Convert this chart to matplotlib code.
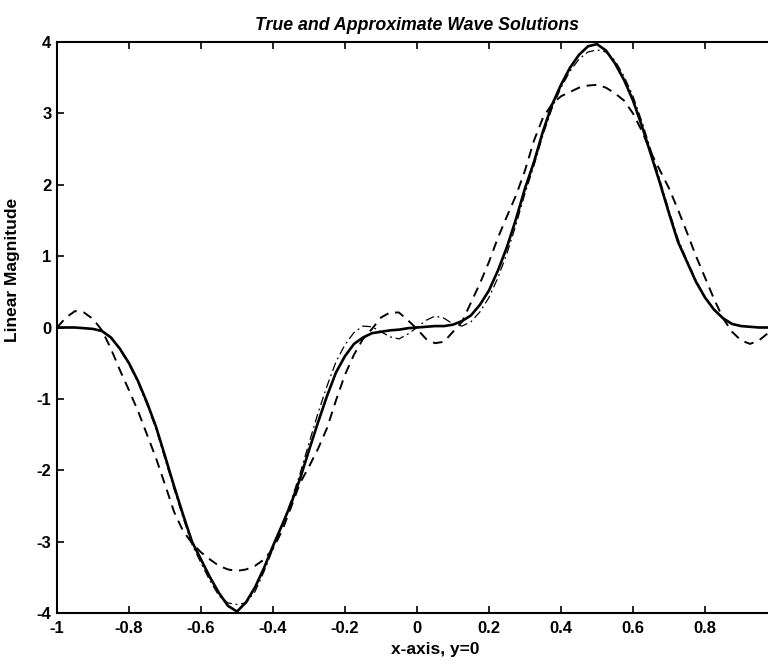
import matplotlib.pyplot as plt

# sampled positions along the x-axis (y = 0 cut)
x = [-1.000, -0.975, -0.950, -0.925, -0.900, -0.875, -0.850, -0.825, -0.800,
     -0.775, -0.750, -0.725, -0.700, -0.675, -0.650, -0.625, -0.600, -0.575,
     -0.550, -0.525, -0.500, -0.475, -0.450, -0.425, -0.400, -0.375, -0.350,
     -0.325, -0.300, -0.275, -0.250, -0.225, -0.200, -0.175, -0.150, -0.125,
     -0.100, -0.075, -0.050, -0.025, 0.000, 0.025, 0.050, 0.075, 0.100,
     0.125, 0.150, 0.175, 0.200, 0.225, 0.250, 0.275, 0.300, 0.325, 0.350,
     0.375, 0.400, 0.425, 0.450, 0.475, 0.500, 0.525, 0.550, 0.575, 0.600,
     0.625, 0.650, 0.675, 0.700, 0.725, 0.750, 0.775, 0.800, 0.825, 0.850,
     0.875, 0.900, 0.925, 0.950, 0.975, 1.000]

# true solution (solid)
true_sol = [0.00, 0.00, 0.00, -0.01, -0.02, -0.05, -0.14, -0.30, -0.50,
            -0.75, -1.05, -1.39, -1.80, -2.22, -2.62, -3.00, -3.25, -3.50,
            -3.72, -3.90, -3.98, -3.85, -3.64, -3.37, -3.06, -2.77, -2.47,
            -2.12, -1.72, -1.33, -0.96, -0.63, -0.40, -0.23, -0.14, -0.08,
            -0.06, -0.04, -0.03, -0.01, 0.00, 0.01, 0.02, 0.02, 0.04,
            0.09, 0.17, 0.32, 0.52, 0.80, 1.13, 1.52, 1.95, 2.32, 2.75,
            3.12, 3.40, 3.64, 3.82, 3.94, 3.97, 3.88, 3.70, 3.47, 3.18,
            2.82, 2.42, 2.02, 1.60, 1.20, 0.92, 0.64, 0.42, 0.25, 0.13,
            0.05, 0.02, 0.01, 0.00, 0.00, 0.00]

# first approximation (dash-dot)
approx_a = [0.00, 0.00, 0.00, -0.01, -0.02, -0.05, -0.15, -0.31, -0.52,
            -0.77, -1.08, -1.42, -1.84, -2.26, -2.66, -3.04, -3.30, -3.55,
            -3.76, -3.86, -3.88, -3.86, -3.70, -3.42, -3.10, -2.78, -2.43,
            -2.05, -1.62, -1.20, -0.82, -0.48, -0.24, -0.07, 0.02, 0.01,
            -0.06, -0.13, -0.16, -0.09, 0.00, 0.10, 0.16, 0.13, 0.05,
            0.02, 0.08, 0.22, 0.42, 0.70, 1.04, 1.44, 1.88, 2.27, 2.70,
            3.07, 3.36, 3.59, 3.76, 3.86, 3.89, 3.86, 3.74, 3.52, 3.24,
            2.88, 2.48, 2.06, 1.64, 1.24, 0.94, 0.66, 0.43, 0.26, 0.13,
            0.05, 0.02, 0.01, 0.00, 0.00, 0.00]

# second approximation (dashed)
approx_b = [0.00, 0.14, 0.23, 0.21, 0.12, -0.04, -0.30, -0.60, -0.88,
            -1.17, -1.50, -1.83, -2.20, -2.58, -2.85, -3.02, -3.15, -3.25,
            -3.34, -3.39, -3.41, -3.39, -3.34, -3.25, -3.10, -2.85, -2.52,
            -2.18, -1.95, -1.70, -1.41, -1.02, -0.66, -0.38, -0.16, -0.02,
            0.14, 0.21, 0.21, 0.10, -0.02, -0.16, -0.22, -0.20, -0.06,
            0.08, 0.35, 0.62, 0.92, 1.26, 1.56, 1.85, 2.20, 2.62, 2.94,
            3.13, 3.24, 3.30, 3.36, 3.39, 3.40, 3.36, 3.28, 3.18, 3.00,
            2.75, 2.45, 2.20, 1.95, 1.65, 1.33, 1.00, 0.70, 0.40, 0.13,
            -0.06, -0.18, -0.23, -0.18, -0.08, 0.00]

x_ticks = [-1, -0.8, -0.6, -0.4, -0.2, 0, 0.2, 0.4, 0.6, 0.8, 1]
# the label at x=1 falls outside the cropped picture, so it stays blank
x_tick_labels = ["-1", "-0.8", "-0.6", "-0.4", "-0.2", "0", "0.2", "0.4", "0.6", "0.8", ""]
y_ticks = [-4, -3, -2, -1, 0, 1, 2, 3, 4]
y_tick_labels = ["-4", "-3", "-2", "-1", "0", "1", "2", "3", "4"]

plt.rcParams["font.family"] = ["Liberation Sans", "DejaVu Sans"]
plt.rcParams["axes.unicode_minus"] = False

fig = plt.figure(figsize=(7.68, 6.65), dpi=100)
ax = fig.add_axes([57 / 768, 52 / 665, 720 / 768, 571 / 665])

ax.plot(x, true_sol, color="black", linewidth=1.9, linestyle="-")
ax.plot(x, approx_a, color="black", linewidth=0.9, linestyle=(0, (7, 3, 1.5, 3)))
ax.plot(x, approx_b, color="black", linewidth=1.4, linestyle=(0, (5, 3.5)))

ax.set_xlim(-1, 1)
ax.set_ylim(-4, 4)
ax.set_xticks(x_ticks)
ax.set_xticklabels(x_tick_labels)
ax.set_yticks(y_ticks)
ax.set_yticklabels(y_tick_labels)
ax.tick_params(direction="in", length=5, width=1.2, top=True, right=True,
               labelsize=12, pad=4)
ax.tick_params(axis="x", pad=6)
for lbl in ax.get_xticklabels() + ax.get_yticklabels():
    lbl.set_fontweight("bold")
for sp in ax.spines.values():
    sp.set_linewidth(1.5)

ax.set_title("True and Approximate Wave Solutions", fontsize=12.8,
             style="italic", fontweight="bold", pad=9)
ax.set_xlabel("x-axis, y=0", fontsize=12.5, fontweight="bold")
ax.xaxis.set_label_coords(0.526, -0.05)
ax.set_ylabel("Linear Magnitude", fontsize=12.5, fontweight="bold")
ax.yaxis.set_label_coords(-0.052, 0.6)

fig.savefig("out.png", dpi=100)
